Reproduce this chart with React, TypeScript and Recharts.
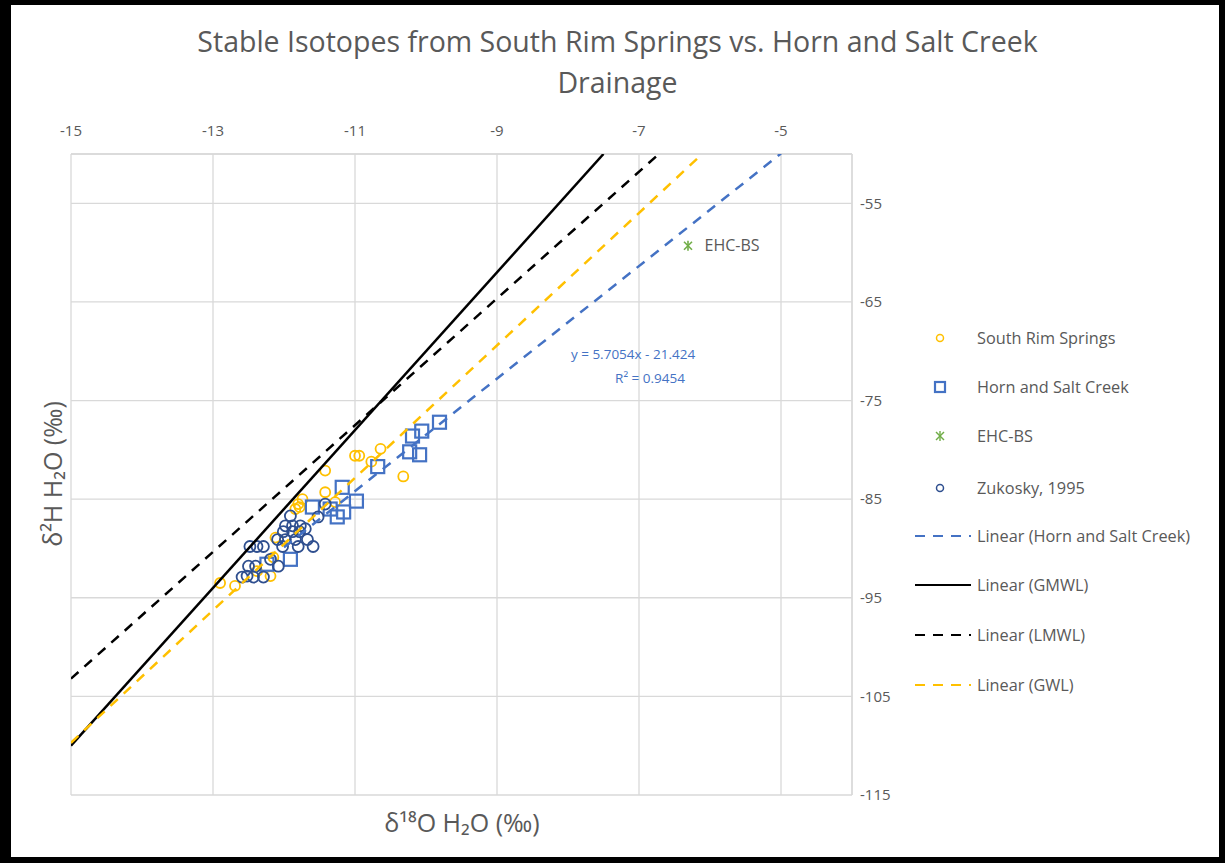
import { ScatterChart, Scatter, XAxis, YAxis, CartesianGrid, LabelList } from "recharts";

const X_TICKS = [-15, -13, -11, -9, -7, -5];
const Y_TICKS = [-115, -105, -95, -85, -75, -65, -55];

const southRim = [
  { x: -12.9, y: -93.5 },
  { x: -12.69, y: -93.8 },
  { x: -12.38, y: -92.3 },
  { x: -12.19, y: -92.8 },
  { x: -12.15, y: -90.9 },
  { x: -12.12, y: -88.9 },
  { x: -11.84, y: -86.0 },
  { x: -11.8, y: -85.5 },
  { x: -11.78, y: -85.8 },
  { x: -11.74, y: -85.0 },
  { x: -11.28, y: -85.3 },
  { x: -11.42, y: -84.3 },
  { x: -11.42, y: -82.1 },
  { x: -11.0, y: -80.6 },
  { x: -10.94, y: -80.6 },
  { x: -10.77, y: -81.2 },
  { x: -10.64, y: -79.9 },
  { x: -10.32, y: -82.7 },
];

const hornSalt = [
  { x: -9.81, y: -77.2 },
  { x: -10.19, y: -78.6 },
  { x: -10.06, y: -78.1 },
  { x: -10.23, y: -80.2 },
  { x: -10.09, y: -80.5 },
  { x: -10.68, y: -81.7 },
  { x: -11.18, y: -83.8 },
  { x: -10.98, y: -85.2 },
  { x: -11.6, y: -85.8 },
  { x: -11.35, y: -86.0 },
  { x: -11.16, y: -86.3 },
  { x: -11.25, y: -86.8 },
  { x: -11.91, y: -91.1 },
  { x: -12.24, y: -91.6 },
];

const ehcBs = [{ x: -6.31, y: -59.3, name: "EHC-BS" }];

const zukosky = [
  { x: -12.48, y: -89.8 },
  { x: -12.38, y: -89.8 },
  { x: -12.29, y: -89.8 },
  { x: -12.5, y: -91.8 },
  { x: -12.4, y: -91.8 },
  { x: -12.08, y: -91.8 },
  { x: -12.59, y: -92.9 },
  { x: -12.52, y: -92.8 },
  { x: -12.43, y: -92.9 },
  { x: -12.29, y: -92.9 },
  { x: -12.19, y: -91.1 },
  { x: -11.91, y: -86.7 },
  { x: -11.52, y: -86.8 },
  { x: -11.98, y: -87.7 },
  { x: -11.88, y: -87.7 },
  { x: -11.77, y: -87.7 },
  { x: -11.7, y: -88.0 },
  { x: -12.01, y: -88.3 },
  { x: -11.88, y: -88.3 },
  { x: -11.78, y: -88.3 },
  { x: -12.09, y: -89.1 },
  { x: -11.98, y: -89.1 },
  { x: -11.84, y: -89.1 },
  { x: -11.67, y: -89.1 },
  { x: -12.02, y: -89.8 },
  { x: -11.8, y: -89.8 },
  { x: -11.59, y: -89.8 },
  { x: -11.42, y: -85.5 },
];

// trendline end points
const hornTrend = [{ x: -12, y: -89.89 }, { x: -5, y: -49.95 }];
const gmwl = [{ x: -15, y: -110 }, { x: -7.5, y: -50 }];
const lmwl = [{ x: -15, y: -103.2 }, { x: -6.72, y: -50 }];
const gwl = [{ x: -15, y: -109.7 }, { x: -6.11, y: -50 }];

const FONT = "'Open Sans', sans-serif";
const GREY = "#595959";
const ORANGE = "#FFC000";
const BLUE = "#4472C4";
const NAVY = "#2F4F8F";
const GREEN = "#70AD47";

const ring = (color: string, r: number) => (p: any) =>
  <circle cx={p.cx} cy={p.cy} r={r} fill="none" stroke={color} strokeWidth={1.8} />;

const square = (p: any) =>
  <rect x={p.cx - 6.5} y={p.cy - 6.5} width={13} height={13} fill="none" stroke={BLUE} strokeWidth={2.2} />;

const star = (p: any) => (
  <g stroke={GREEN} strokeWidth={1.6}>
    <line x1={p.cx - 4} y1={p.cy - 4} x2={p.cx + 4} y2={p.cy + 4} />
    <line x1={p.cx - 4} y1={p.cy + 4} x2={p.cx + 4} y2={p.cy - 4} />
    <line x1={p.cx} y1={p.cy - 5} x2={p.cx} y2={p.cy + 5} />
  </g>
);

const none = () => <g />;

const legendItems = [
  { label: "South Rim Springs", kind: "ring", color: ORANGE },
  { label: "Horn and Salt Creek", kind: "square", color: BLUE },
  { label: "EHC-BS", kind: "star", color: GREEN },
  { label: "Zukosky, 1995", kind: "ring", color: NAVY },
  { label: "Linear (Horn and Salt Creek)", kind: "dash", color: BLUE },
  { label: "Linear (GMWL)", kind: "solid", color: "#000" },
  { label: "Linear (LMWL)", kind: "dash", color: "#000" },
  { label: "Linear (GWL)", kind: "dash", color: ORANGE },
];
const legendTops = [338, 387, 436, 488, 536, 585, 635, 685];

function LegendIcon({ kind, color }: { kind: string; color: string }) {
  return (
    <svg width={58} height={16} style={{ display: "block" }}>
      {kind === "ring" && <circle cx={25} cy={8} r={3.5} fill="none" stroke={color} strokeWidth={1.5} />}
      {kind === "square" && <rect x={20} y={3} width={10} height={10} fill="none" stroke={color} strokeWidth={2.2} />}
      {kind === "star" && (
        <g stroke={color} strokeWidth={1.4}>
          <line x1={21} y1={4} x2={29} y2={12} />
          <line x1={21} y1={12} x2={29} y2={4} />
          <line x1={25} y1={3} x2={25} y2={13} />
        </g>
      )}
      {kind === "solid" && <line x1={0} y1={8} x2={56} y2={8} stroke={color} strokeWidth={2.2} />}
      {kind === "dash" && (
        <line x1={0} y1={8} x2={56} y2={8} stroke={color} strokeWidth={2.2} strokeDasharray="10 8" />
      )}
    </svg>
  );
}

export default function App() {
  return (
    <div style={{ position: "absolute", left: 0, top: 0, width: 1225, height: 863, background: "#fff", fontFamily: FONT }}>
      <ScatterChart
        width={1225}
        height={863}
        margin={{ top: 124, right: 313, bottom: 68, left: 71 }}
        style={{ position: "absolute", left: 0, top: 0 }}
      >
        <CartesianGrid stroke="#d9d9d9" strokeWidth={1.3} />
        <XAxis
          type="number"
          dataKey="x"
          orientation="top"
          domain={[-15, -4]}
          ticks={X_TICKS}
          height={30}
          tickLine={false}
          axisLine={{ stroke: "#d9d9d9", strokeWidth: 1.3 }}
          tickMargin={12}
          tick={{ fontSize: 15, fill: GREY, fontFamily: FONT }}
          allowDataOverflow
        />
        <YAxis
          type="number"
          dataKey="y"
          orientation="right"
          domain={[-115, -50]}
          ticks={Y_TICKS}
          width={60}
          tickLine={false}
          axisLine={{ stroke: "#d9d9d9", strokeWidth: 1.3 }}
          tick={{ fontSize: 15, fill: GREY, fontFamily: FONT }}
          allowDataOverflow
        />
        <Scatter data={southRim} shape={ring(ORANGE, 5)} isAnimationActive={false} />
        <Scatter data={hornSalt} shape={square} isAnimationActive={false} />
        <Scatter data={ehcBs} shape={star} isAnimationActive={false}>
          <LabelList dataKey="name" position="right" offset={12} fill={GREY} fontSize={16} fontFamily={FONT} />
        </Scatter>
        <Scatter data={zukosky} shape={ring(NAVY, 5.5)} isAnimationActive={false} />
        <Scatter data={hornTrend} shape={none} line={{ stroke: BLUE, strokeWidth: 2.5, strokeDasharray: "10 8" }} isAnimationActive={false} />
        <Scatter data={gmwl} shape={none} line={{ stroke: "#000", strokeWidth: 2.5 }} isAnimationActive={false} />
        <Scatter data={lmwl} shape={none} line={{ stroke: "#000", strokeWidth: 2.5, strokeDasharray: "10 8" }} isAnimationActive={false} />
        <Scatter data={gwl} shape={none} line={{ stroke: ORANGE, strokeWidth: 2.5, strokeDasharray: "10 8" }} isAnimationActive={false} />
      </ScatterChart>

      <div style={{ position: "absolute", left: 0, width: 1235, top: 21, textAlign: "center", color: GREY, fontSize: 28.5, lineHeight: "41px" }}>
        Stable Isotopes from South Rim Springs vs. Horn and Salt Creek
        <br />
        Drainage
      </div>

      <div style={{ position: "absolute", left: 462, top: 822, transform: "translate(-50%, -50%)", color: GREY, fontSize: 25, whiteSpace: "nowrap" }}>
        δ¹⁸O H₂O (‰)
      </div>
      <div style={{ position: "absolute", left: 52, top: 474, transform: "translate(-50%, -50%) rotate(-90deg)", color: GREY, fontSize: 25, whiteSpace: "nowrap" }}>
        δ²H H₂O (‰)
      </div>

      <div style={{ position: "absolute", left: 633, top: 354, transform: "translate(-50%, -50%)", color: BLUE, fontSize: 13.5, whiteSpace: "nowrap" }}>
        y = 5.7054x - 21.424
      </div>
      <div style={{ position: "absolute", left: 650, top: 378, transform: "translate(-50%, -50%)", color: BLUE, fontSize: 13.5, whiteSpace: "nowrap" }}>
        R² = 0.9454
      </div>

      {legendItems.map((item, i) => (
        <div
          key={item.label}
          style={{ position: "absolute", left: 915, top: legendTops[i] - 11, height: 22, display: "flex", alignItems: "center", color: GREY, fontSize: 16.3, whiteSpace: "nowrap" }}
        >
          <LegendIcon kind={item.kind} color={item.color} />
          <span style={{ marginLeft: 4 }}>{item.label}</span>
        </div>
      ))}

      <div style={{ position: "absolute", inset: 0, boxSizing: "border-box", borderStyle: "solid", borderColor: "#000", borderWidth: "5px 6px 6px 11px", pointerEvents: "none" }} />
    </div>
  );
}
